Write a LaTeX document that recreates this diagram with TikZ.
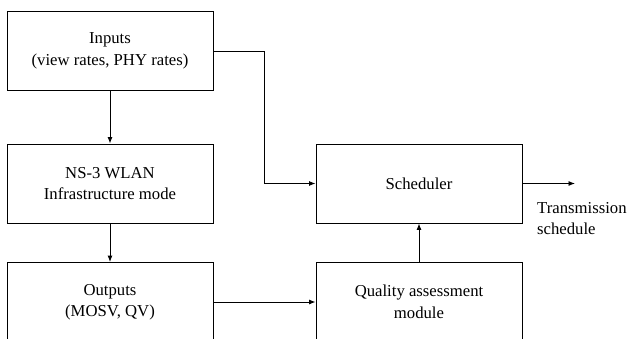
\documentclass[tikz,border=0pt]{standalone}
\usepackage{fontspec}
\setmainfont{Liberation Serif}
\usepackage{tikz}
\usetikzlibrary{positioning, calc, arrows.meta}

\begin{document}
\begin{tikzpicture}[x=1pt, y=1pt,
        block/.style={draw, line width=0.9pt, minimum width=206pt, minimum height=79pt, align=center, font=\fontsize{16.7}{21.5}\selectfont},
        flow/.style={line width=0.9pt, ->, >={Latex[length=6.5pt, width=5pt]}}]
        % Fix the page to the size of the reference
        \useasboundingbox (0,0) rectangle (627,338);
        \clip (0,0) rectangle (627,338);

        % Left column of blocks
        \node[block] (inputs) at (110, 287) {Inputs\\(view rates, PHY rates)};
        \node[block] (ns3) at (110, 154.5) {NS-3 WLAN\\Infrastructure mode};
        \node[block] (outputs) at (110, 36) {Outputs\\(MOSV, QV)};

        % Right column of blocks
        \node[block] (sched) at (419, 154.5) {Scheduler};
        \node[block] (quality) at (419, 36) {Quality assessment\\module};

        % Output label and free ends
        \coordinate (bend) at (264, 287);
        \coordinate (txend) at (575, 154.5);
        \node[anchor=west, inner sep=0pt, align=left, font=\fontsize{16.7}{21.5}\selectfont] (txlabel) at (537, 119.5) {Transmission\\schedule};

        % Connectors
        \draw[flow] (inputs) -- (ns3);
        \draw[flow] (ns3) -- (outputs);
        \draw[flow] (inputs.east) -- (bend) |- (sched.west);
        \draw[flow] (outputs) -- (quality);
        \draw[flow] (quality) -- (sched);
        \draw[flow] (sched.east) -- (txend);

    \end{tikzpicture}
\end{document}
